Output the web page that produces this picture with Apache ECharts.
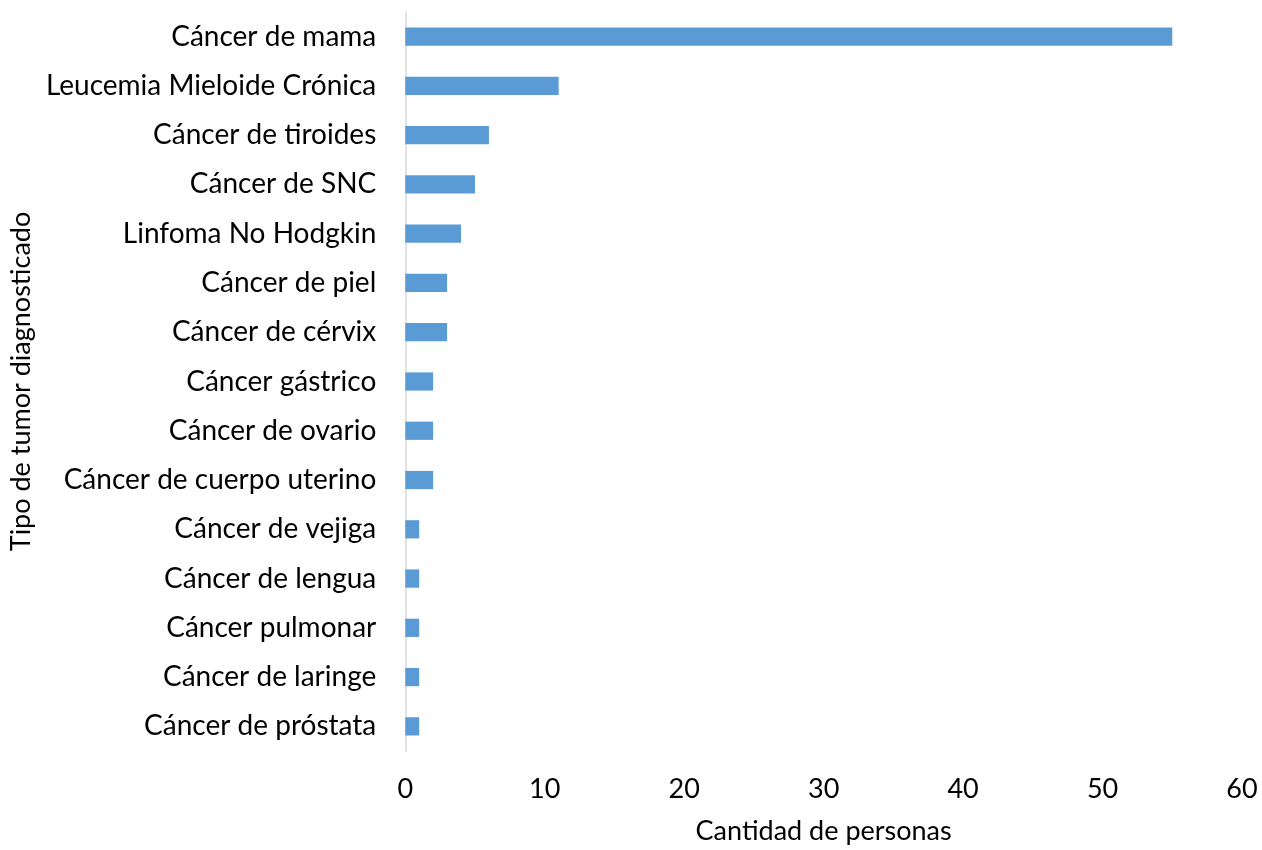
<!DOCTYPE html>
<html>
<head>
<meta charset="utf-8">
<script src="https://cdn.jsdelivr.net/npm/echarts@6/dist/echarts.min.js"></script>
<style>html,body{margin:0;padding:0;background:#fff}#c{width:1262px;height:850px}</style>
</head>
<body>
<div id="c"></div>
<script>
const categories = ["Cáncer de mama","Leucemia Mieloide Crónica","Cáncer de tiroides","Cáncer de SNC","Linfoma No Hodgkin","Cáncer de piel","Cáncer de cérvix","Cáncer gástrico","Cáncer de ovario","Cáncer de cuerpo uterino","Cáncer de vejiga","Cáncer de lengua","Cáncer pulmonar","Cáncer de laringe","Cáncer de próstata"];
const values = [55,11,6,5,4,3,3,2,2,2,1,1,1,1,1];
const xTicks = [0,10,20,30,40,50,60];
const xAxisName = "Cantidad de personas";
const yAxisName = "Tipo de tumor diagnosticado";

const font = 'Lato, "Open Sans", sans-serif';
const chart = echarts.init(document.getElementById('c'));
chart.setOption({
  animation:false,
  grid:{left:400,right:20,top:12,bottom:97,containLabel:false},
  xAxis:{type:'value',min:xTicks[0],max:xTicks[xTicks.length-1],interval:10,
    name:xAxisName,nameLocation:'middle',nameGap:67,
    nameTextStyle:{fontFamily:font,fontSize:27,color:'#000'},
    axisLine:{show:false},axisTick:{show:false},splitLine:{show:false},
    axisLabel:{fontFamily:font,fontSize:27,color:'#000',margin:25}},
  yAxis:{type:'category',data:categories,inverse:true,
    name:yAxisName,nameLocation:'middle',nameGap:358,
    nameTextStyle:{fontFamily:font,fontSize:27,color:'#000'},
    axisLine:{show:true,lineStyle:{color:'#d9d9d9',width:1.5}},axisTick:{show:false},
    axisLabel:{fontFamily:font,fontSize:28,color:'#000',margin:29}},
  series:[{type:'bar',data:values,barWidth:'37%',itemStyle:{color:'#5B9BD5'}}]
});
</script>
</body>
</html>
